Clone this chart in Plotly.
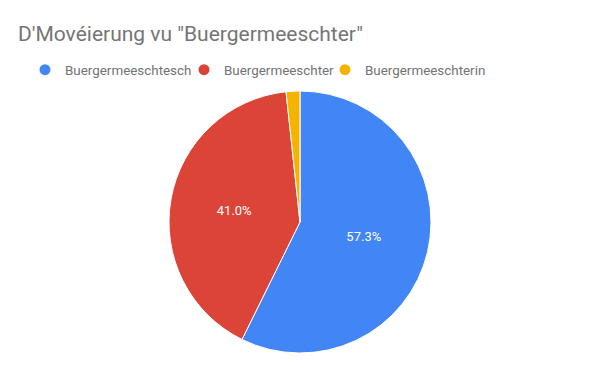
import plotly.graph_objects as go

categories = ["Buergermeeschtesch", "Buergermeeschter", "Buergermeeschterin"]
values = [57.3, 41.0, 1.7]
colors = ["#4285F4", "#DB4437", "#F4B400"]
title_text = "D'Movéierung vu \"Buergermeeschter\""

W, H = 600, 371
cx, cy, r = 300, 222, 131
legend_widths = [114, 96, None]

fig = go.Figure()
fig.add_trace(go.Pie(
    labels=categories,
    values=values,
    sort=False,
    direction="clockwise",
    rotation=0,
    marker=dict(colors=colors, line=dict(color="white", width=1)),
    texttemplate="%{percent:.1%}",
    textposition=["inside", "inside", "none"],
    insidetextorientation="horizontal",
    textfont=dict(color="white", size=13, family="Roboto"),
    showlegend=False,
    domain=dict(x=[(cx - r) / W, (cx + r) / W], y=[(H - cy - r) / H, (H - cy + r) / H]),
    hoverinfo="label+percent",
))

for name, col, lw in zip(categories, colors, legend_widths):
    fig.add_trace(go.Scatter(
        x=[None], y=[None], mode="markers", name=name,
        marker=dict(symbol="circle", size=11, color=col),
        showlegend=True, legendwidth=lw,
    ))

fig.update_layout(
    width=W, height=H,
    margin=dict(l=0, r=0, t=0, b=0),
    paper_bgcolor="white", plot_bgcolor="white",
    xaxis=dict(visible=False), yaxis=dict(visible=False),
    title=dict(text=title_text, x=18 / W, xanchor="left", xref="paper",
               y=(H - 34) / H, yanchor="middle", yref="paper",
               font=dict(family="Roboto", size=21, color="#757575")),
    legend=dict(orientation="h", x=25 / W, xanchor="left", y=(H - 70) / H, yanchor="middle",
                font=dict(family="Roboto", size=13.4, color="#737373"),
                itemwidth=30, tracegroupgap=0, bgcolor="rgba(0,0,0,0)"),
    font=dict(family="Roboto"),
)

fig.write_html("out.html")
